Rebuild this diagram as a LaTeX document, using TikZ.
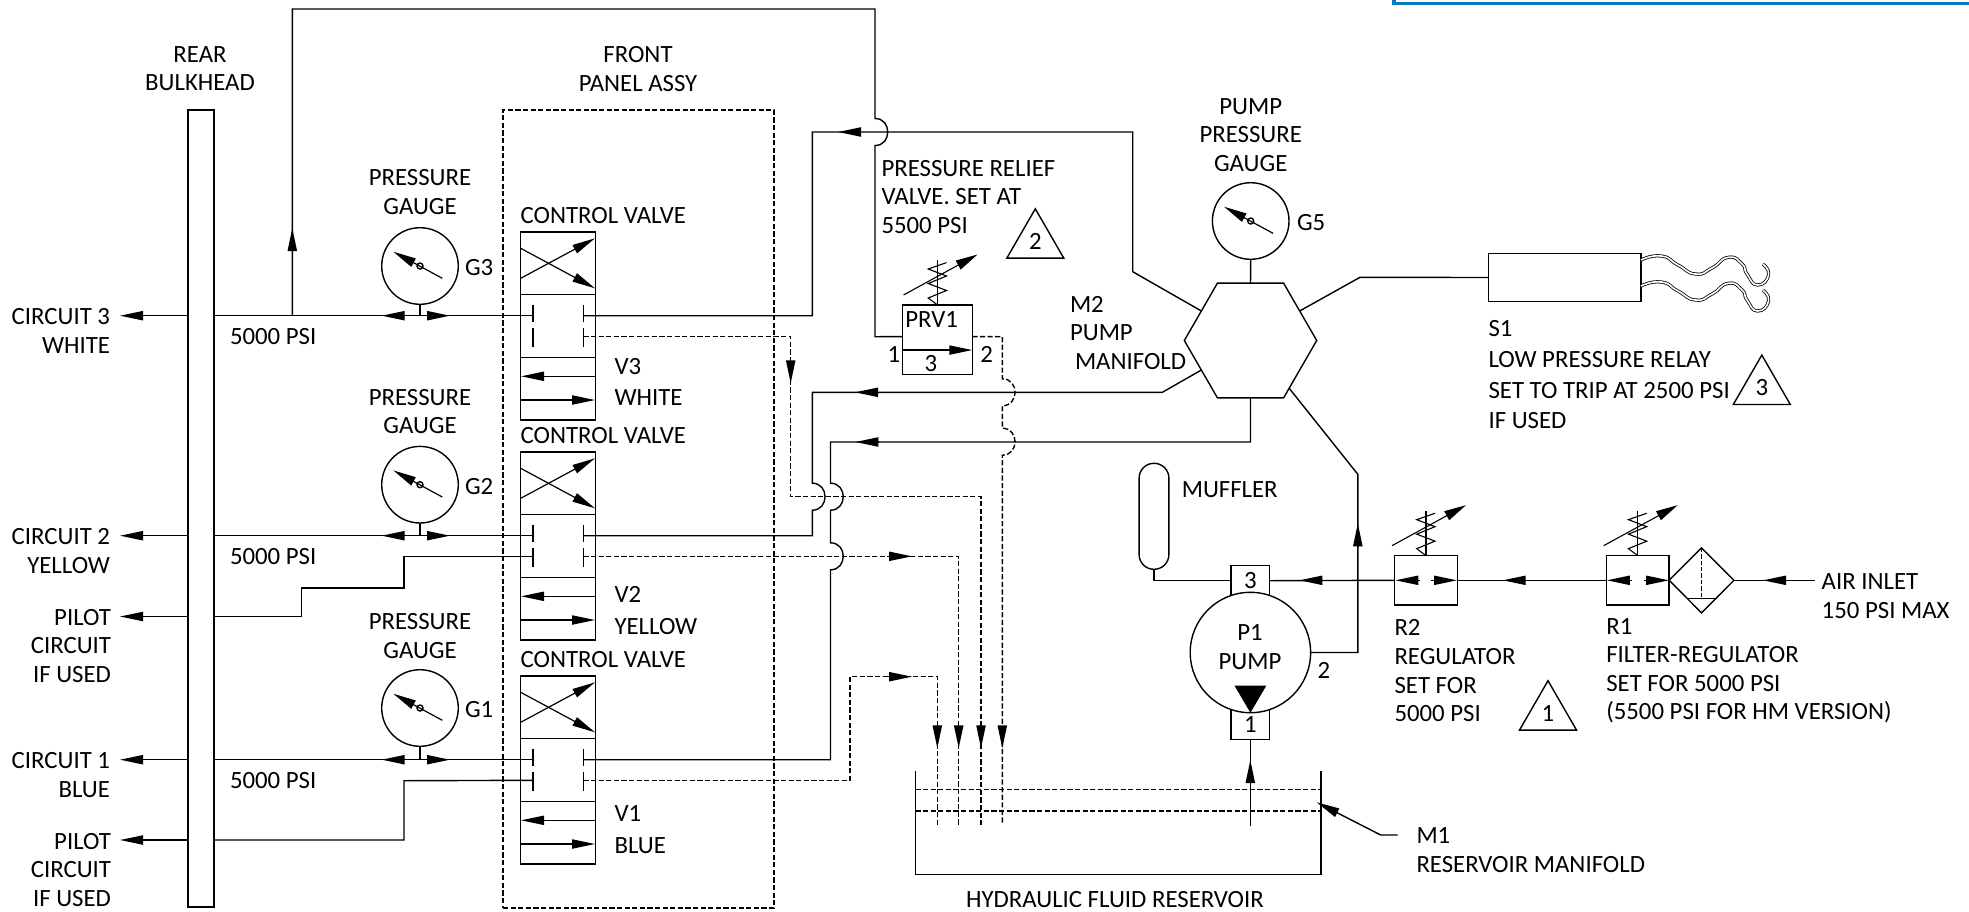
\documentclass[tikz,border=0pt]{standalone}
\usepackage{fontspec}
\setmainfont{Carlito}
\usetikzlibrary{arrows.meta,positioning,shapes.geometric}
\definecolor{cornerblue}{RGB}{10,122,192}
\tikzset{
  lbl/.style={inner sep=0pt,outer sep=0pt,yshift=-.4pt,align=left,font=\fontsize{12.4}{14.3}\selectfont},
  lblc/.style={lbl,align=center},
  lblr/.style={lbl,align=right,anchor=east},
  lbll/.style={lbl,anchor=west},
  pipe/.style={line width=.7pt,line join=miter},
  drain/.style={pipe,dash pattern=on 2.6pt off 1.2pt},
  flow/.style={pipe,-{Triangle[length=11.5pt,width=4.6pt]}},
  box/.style={draw,line width=.7pt,inner sep=0pt,outer sep=0pt},
  cell/.style={box,minimum width=37.35pt,minimum height=31.35pt},
  gauge/.style={box,circle,minimum size=38.3pt},
  regbox/.style={box,minimum width=31.4pt,minimum height=24.65pt},
  port/.style={box,minimum width=19.3pt,minimum height=15pt,font=\fontsize{12.4}{14}\selectfont},
  note/.style={box,regular polygon,regular polygon sides=3,minimum size=32.9pt,font=\fontsize{12.4}{14}\selectfont},
  wire/.style={draw=black,double=white,double distance=.8pt,line width=.4pt},
  adjust/.pic={
    \draw [line width=.55pt] (0,0) -- (0,-45);
    \draw [line width=.55pt] (0,0) -- (-9.3,-7) -- (9,-14.5) -- (-9.3,-21.5) -- (9,-29) -- (-9.3,-36) -- (9,-42.4);
    \draw [pipe,line width=.55pt,-{Triangle[length=11pt,width=5pt]}] (-34,-10) -- (40,-50.5);
  }
}
\newcommand{\hopup}[2]{-- (#1,#2+13.5) .. controls +(17,0) and +(17,0) .. (#1,#2-13.5)}
\newcommand{\hopdown}[2]{-- (#1,#2-13.5) .. controls +(17,0) and +(17,0) .. (#1,#2+13.5)}
\begin{document}
\begin{tikzpicture}[x=.5pt,y=-.5pt]
\useasboundingbox (0,0) rectangle (1969,911);

\draw [cornerblue,line width=1.6pt] (1394,0) -- (1394,3.3) -- (1969,3.3);

\node [box,minimum width=13pt,minimum height=398.5pt] (bulkhead) at (201,508.5) {};
\node [lblc] (bulkheadtag) at (200,68) {REAR\\BULKHEAD};
\node [box,dash pattern=on 2.6pt off 1.2pt,minimum width=135.5pt,minimum height=399pt] (panel) at (638.5,509) {};
\node [lblc] (paneltag) at (638,68) {FRONT\\PANEL ASSY};

\foreach \n/\y/\g/\c/\w/\t in {3/232/266/191/WHITE/381,2/452/484.7/410.6/YELLOW/610,1/676/708/635.4/BLUE/829} {
  \node [cell] (V\n-a) at (558,\y+31.35) {};
  \node [cell,below=0pt of V\n-a] (V\n-b) {};
  \node [cell,below=0pt of V\n-b] (V\n-c) {};
  \node [lbll] (V\n-head) at (520.7,\y-17) {CONTROL VALVE};
  \node [lbll] (V\n-tag) at (614.5,\t) {V\n\\[1.5pt]\w};
  \coordinate (V\n-in) at (533,\y+83.7);
  \coordinate (V\n-out) at (583.3,\y+83.7);
  \coordinate (V\n-pilot) at (533,\y+104.3);
  \coordinate (V\n-drain) at (583.3,\y+104.3);
  \coordinate (C\n) at (120,\y+83.7);
  \draw [flow,line width=.6pt] (520.7,\y+16.3) -- (595,\y+56.3);
  \draw [flow,line width=.6pt] (520.7,\y+46.3) -- (595,\y+6.3);
  \draw [flow] (595.3,\y+144.3) -- (521,\y+144.3);
  \draw [flow] (520.7,\y+168) -- (595,\y+168);
  \draw [pipe] (533,\y+73) -- (533,\y+90.3);
  \draw [pipe] (533,\y+96.3) -- (533,\y+114.7);
  \draw [pipe] (583.3,\y+73) -- (583.3,\y+90.3);
  \draw [pipe] (583.3,\y+96.3) -- (583.3,\y+114.7);
  \node [gauge] (G\n) at (420,\g) {};
  \node [box,circle,minimum size=3pt] (G\n-hub) at (G\n) {};
  \draw [flow,line width=.6pt] ([shift={(22.3,12.3)}]G\n.center) -- ([shift={(-26.7,-14.3)}]G\n.center);
  \draw [pipe] (G\n.south) -- (G\n.south |- V\n-in);
  \node [lblc] (G\n-head) at (420,\c) {PRESSURE\\GAUGE};
  \node [lbll] (G\n-tag) at (465,\g+1) {G\n};
  \node [lblr] (C\n-tag) at (110,\y+98) {CIRCUIT \n\\\w};
  \node [lbll] (V\n-psi) at (230,\y+104) {5000 PSI};
  \draw [pipe] (V\n-in) -- (bulkhead.east |- V\n-in);
  \draw [flow] (bulkhead.west |- V\n-in) -- (C\n);
  \draw [flow] (405,\y+83.7) -- (381.7,\y+83.7);
  \draw [flow] (427,\y+83.7) -- (450,\y+83.7);
}

\coordinate (P2) at (120,616.5);
\coordinate (P1) at (120,840);
\draw [pipe] (V2-pilot) -- (404,556.3) -- (404,588) -- (301.4,588) -- (301.4,616.5) -- (bulkhead.east |- P2);
\draw [pipe] (V1-pilot) -- (404,780.7) -- (404,840) -- (bulkhead.east |- P1);
\draw [flow] (bulkhead.west |- P2) -- (P2);
\draw [flow] (bulkhead.west |- P1) -- (P1);
\node [lblr] (P2tag) at (111,645) {PILOT\\CIRCUIT\\IF USED};
\node [lblr] (P1tag) at (111,869) {PILOT\\CIRCUIT\\IF USED};

\node [regular polygon,regular polygon sides=6,box,minimum size=66.2pt] (M2) at (1250.5,340.5) {};
\node [lbll] (M2tag) at (1070,332) {M2\\PUMP\\\hspace*{2.5pt}MANIFOLD};

\node [gauge] (G5) at (1250.7,221) {};
\node [box,circle,minimum size=3pt] (G5hub) at (G5) {};
\draw [flow,line width=.6pt] ([shift={(22.3,12.3)}]G5.center) -- ([shift={(-26.7,-14.3)}]G5.center);
\draw [pipe] (G5.south) -- (M2.north);
\node [lblc] (G5head) at (1250.7,134) {PUMP\\PRESSURE\\GAUGE};
\node [lbll] (G5tag) at (1297,222) {G5};

\node [box,minimum width=34.8pt,minimum height=34.65pt] (PRV1) at (937.5,339.65) {};
\pic at (PRV1.north) {adjust};
\node [lblc] (PRV1tag) at (931.7,319) {PRV1};
\node [lblc] (PRV1a) at (894,353.3) {1};
\node [lblc] (PRV1b) at (986.7,353.3) {2};
\node [lblc] (PRV1c) at (931,362.7) {3};
\draw [flow] ([yshift=-5.2pt]PRV1.west) -- ([yshift=-5.2pt]PRV1.east);
\node [lbll] (PRV1note) at (881.5,196) {PRESSURE RELIEF\\VALVE. SET AT\\5500 PSI};
\node [note] (note2) at (1035.3,241.7) {2};

\coordinate (tee) at (292.3,315.7);
\draw [pipe] (tee) -- (292.3,9) -- (875,9) \hopdown{875}{132} -- (875,336.7) -- ([yshift=1.5pt]PRV1.west);
\draw [drain] ([yshift=1.5pt]PRV1.east) -- (1002.3,336.7) \hopdown{1002.3}{392.3} \hopdown{1002.3}{441.7} -- (1002.3,825);

\draw [pipe] (V3-out) -- (812.3,315.7) -- (812.3,132) -- (1132.7,132) -- (1132.7,271.7) -- (M2.149);
\draw [pipe] (V2-out) -- (812.3,535.7) \hopup{812.3}{496.7} -- (812.3,392.3) -- (1162.3,392.3) -- (M2.211);
\draw [pipe] (V1-out) -- (830.5,759.7) \hopup{830.5}{556.3} \hopup{830.5}{496.7} -- (830.5,442) -- (1250.5,442) -- (M2.south);

\draw [drain] (V3-drain) -- (790.7,336.3) -- (790.7,496.7) -- (981,496.7) -- (981,825);
\draw [drain] (V2-drain) -- (958.7,556.3) -- (958.7,825);
\draw [drain] (V1-drain) -- (850,780.3) -- (850,676.7) -- (937.3,676.7) -- (937.3,825);

\foreach \a/\b/\u/\v in {292.3/249/292.3/228,860/132/838/132,876.7/392.3/855/392.3,879/442/855.3/442,790.7/360/790.7/383.3,888/556.3/912/556.3,887/676.7/912/676.7,937.3/726.7/937.3/748.3,958.7/726.7/958.7/748.3,981/726.7/981/748.3,1002.3/726.7/1002.3/748.3,1250.3/780/1250.3/760,1357.8/545.7/1357.8/523.3,1322.7/580.3/1299.4/580.3,1525/580.3/1502.7/580.3,1785/580.3/1763/580.3,1419.8/580.3/1395.3/580.3,1431.2/580.3/1457/580.3,1632/580.3/1606.8/580.3,1644.3/580.3/1669/580.3}
  \draw [flow] (\a,\b) -- (\u,\v);

\node [box,minimum width=76.4pt,minimum height=24.2pt] (S1) at (1564.6,277.5) {};
\draw [pipe] (M2.31) -- (1360,277.3) -- (S1.west);
\foreach \d in {0,26}
  \draw [wire,shift={(0,\d)}] plot [smooth,tension=1] coordinates {(1641,260) (1661.2,256) (1678,265) (1695.7,274) (1712,268) (1728.4,257.3) (1742,264) (1747,274) (1757.4,285) (1768.6,275) (1762.8,264)};
\node [lbll] (S1tag) at (1488.5,374) {S1\\[1pt]LOW PRESSURE RELAY\\[1pt]SET TO TRIP AT 2500 PSI\\[1pt]IF USED};
\node [note] (note3) at (1761.8,388) {3};

\draw [pipe] (915.3,771) -- (915.3,874.3) -- (1321,874.3) -- (1321,771);
\draw [drain] (915.3,789.3) -- (1321,789.3);
\draw [drain] (915.3,811) -- (1321,811);
\node [lblc] (restag) at (1115,898.3) {HYDRAULIC FLUID RESERVOIR};
\node [lbll] (M1tag) at (1416.5,849.5) {M1\\RESERVOIR MANIFOLD};
\draw [flow] (1397.6,835) -- (1380.7,835) -- (1316.7,802.3);

\node [port] (portc) at (1250.3,580.7) {3};
\node [port] (porta) at (1250.3,724.3) {1};
\node [box,circle,fill=white,minimum size=60.2pt] (P1pump) at (1250.4,652.5) {};
\fill (1234.5,685.7) -- (1266.3,685.7) -- (P1pump.south) -- cycle;
\node [lblc] (P1name) at (1250,646.3) {P1\\PUMP};
\node [lblc] (P1portb) at (1324,670) {2};
\draw [pipe] (1250.3,826) -- (porta.south);
\draw [pipe] (P1pump.east) -- (1357.8,652.5) -- (1357.8,474.3) -- (M2.-51);

\node [box,rounded corners=7.4pt,minimum width=14.9pt,minimum height=53pt] (muffler) at (1154,516.3) {};
\node [lbll] (mufflertag) at (1181.8,489) {MUFFLER};
\draw [pipe] (muffler.south) |- (portc.west);

\node [regbox] (R2) at (1426,580.3) {};
\node [regbox] (R1) at (1637.7,580.3) {};
\pic at (R2.north) {adjust};
\pic at (R1.north) {adjust};
\node [box,diamond,aspect=1,minimum width=32.4pt,minimum height=32.5pt] (filter) at (1701.5,580.3) {};
\draw [pipe,dash pattern=on 2.2pt off 1pt] (filter.north) -- (1701.5,598.3);
\draw [pipe] (1687.5,598.3) -- (1715.5,598.3);
\coordinate (air) at (1815,580.3);
\draw [pipe] (air) -- (filter.east);
\draw [pipe] (R1.west) -- (R2.east);
\draw [pipe] (R2.west) -- (portc.east);
\node [lbll] (airtag) at (1821.7,595.5) {AIR INLET\\150 PSI MAX};
\node [lbll] (R2tag) at (1394.5,670) {R2\\REGULATOR\\SET FOR\\5000 PSI};
\node [lbll] (R1tag) at (1606.3,670) {R1\\FILTER-REGULATOR\\SET FOR 5000 PSI\\(5500 PSI FOR HM VERSION)};
\node [note] (note1) at (1548,713.6) {1};
\end{tikzpicture}
\end{document}
